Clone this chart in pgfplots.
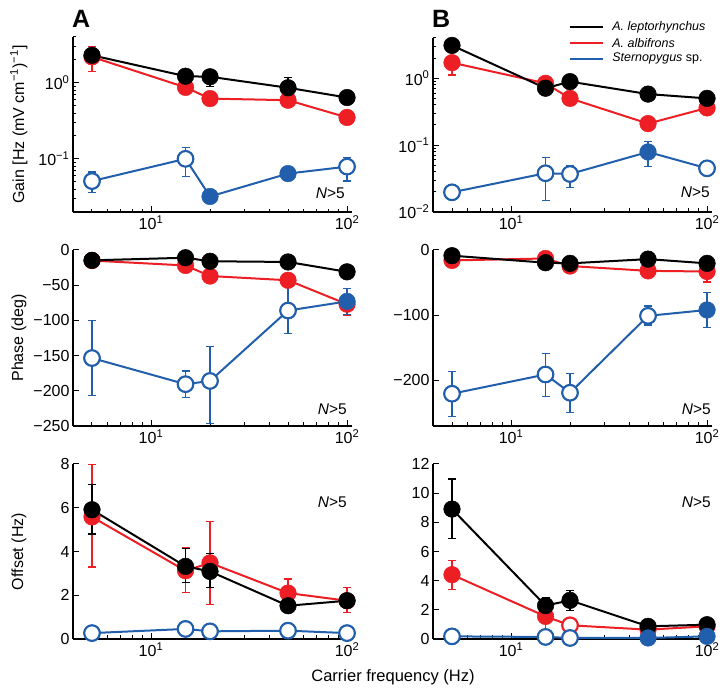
\documentclass[border=0pt]{standalone}
\usepackage{fontspec}
\setmainfont{Liberation Sans}
\usepackage{pgfplots}
\pgfplotsset{compat=1.18}
\definecolor{fred}{RGB}{237,30,36}
\definecolor{fblue}{RGB}{33,94,172}

% shared look of the six panels
\pgfplotsset{
  every axis/.append style={
    scale only axis, width=279pt,
    xmin=4, xmax=106,
    axis x line*=bottom, axis y line*=left,
    axis line style={line width=1.3pt, black},
    tick align=inside,
    major tick length=6pt, minor tick length=3.5pt,
    every tick/.style={black, line width=1pt},
    xtick={10,100}, xticklabels={10\textsuperscript{1},10\textsuperscript{2}},
    minor xtick={4,5,6,7,8,9,20,30,40,50,60,70,80,90},
    tick label style={font=\fontsize{16}{18}\selectfont},
    ylabel style={font=\fontsize{16}{18}\selectfont},
    clip=false,
  },
  every axis y label/.style={at={(axis description cs:-0.194,0.5)}, rotate=90, anchor=center},
  serErr/.style={
    error bars/y dir=both, error bars/y explicit,
    error bars/error bar style={line width=1.2pt},
    error bars/error mark options={rotate=90, mark size=4pt, line width=1.2pt},
  },
  serBlack/.style={black, line width=2pt, mark=*, mark size=8.3pt, mark options={solid, line width=0.5pt}, serErr},
  serRed/.style={fred, line width=2pt, mark=*, mark size=8.3pt, mark options={solid, line width=0.5pt}, serErr},
  serBlue/.style={fblue, line width=2pt, mark=*, mark size=8.3pt, mark options={solid, line width=0.5pt}, serErr},
  openBlue/.style={only marks, mark=*, mark size=7.8pt, mark options={fill=white, draw=fblue, line width=2.1pt}},
  openRed/.style={only marks, mark=*, mark size=7.8pt, mark options={fill=white, draw=fred, line width=2.1pt}},
}
\tikzset{
  nlab/.style={anchor=base east, inner sep=0pt, font=\fontsize{15.5}{17}\selectfont},
  legtxt/.style={anchor=west, inner sep=0pt, font=\fontsize{12.5}{14}\selectfont},
}

\begin{document}
\begin{tikzpicture}
\useasboundingbox (0,0) rectangle (726pt,693pt);

% ---------------- A: gain
\begin{axis}[xmode=log, at={(73pt,481pt)}, anchor=south west, height=175pt,
  ymode=log, ymin=0.02, ymax=4,
  ytick={0.1,1}, yticklabels={10\textsuperscript{−1},10\textsuperscript{0}},
  minor ytick={0.02,0.03,0.04,0.05,0.06,0.07,0.08,0.09,0.2,0.3,0.4,0.5,0.6,0.7,0.8,0.9,2,3,4},
  ylabel={Gain [Hz (mV cm\textsuperscript{−1})\textsuperscript{−1}]}]
\addplot[serRed] coordinates {
  (5,2.19) += (0,0.8) -= (0,0.77)
  (15,0.87) +- (0,0.1)
  (20,0.62) +- (0,0.08)
  (50,0.59) +- (0,0.08)
  (100,0.35) +- (0,0.03)};
\addplot[serBlack] coordinates {
  (5,2.3) +- (0,0.25)
  (15,1.22) +- (0,0.26)
  (20,1.2) +- (0,0.3)
  (50,0.86) += (0,0.3) -= (0,0.33)
  (100,0.64) +- (0,0.1)};
\addplot[serBlue] coordinates {
  (5,0.051) += (0,0.016) -= (0,0.015)
  (15,0.1) += (0,0.04) -= (0,0.041)
  (20,0.032) +- (0,0.002)
  (50,0.064) +- (0,0.006)
  (100,0.079) += (0,0.026) -= (0,0.028)};
\addplot[openBlue] coordinates {(5,0.051) (15,0.1) (100,0.079)};
\node[nlab] at (axis description cs:0.975,0.075) {\textit{N}>5};
\end{axis}

% ---------------- B: gain
\begin{axis}[xmode=log, at={(433pt,481pt)}, anchor=south west, height=174pt,
  ymode=log, ymin=0.01, ymax=4,
  ytick={0.01,0.1,1}, yticklabels={10\textsuperscript{−2},10\textsuperscript{−1},10\textsuperscript{0}},
  minor ytick={0.02,0.03,0.04,0.05,0.06,0.07,0.08,0.09,0.2,0.3,0.4,0.5,0.6,0.7,0.8,0.9,2,3,4}]
\addplot[serRed] coordinates {
  (5,1.71) += (0,0.35) -= (0,0.59)
  (15,0.84) +- (0,0.08)
  (20,0.5) +- (0,0.05)
  (50,0.21) += (0,0.03) -= (0,0.04)
  (100,0.36) +- (0,0.03)};
\addplot[serBlack] coordinates {
  (5,3.1) +- (0,0.4)
  (15,0.71) +- (0,0.1)
  (20,0.89) +- (0,0.15)
  (50,0.58) +- (0,0.1)
  (100,0.5) +- (0,0.08)};
\addplot[serBlue] coordinates {
  (5,0.0197) +- (0,0.001)
  (15,0.038) += (0,0.027) -= (0,0.0232)
  (20,0.037) += (0,0.013) -= (0,0.014)
  (50,0.079) += (0,0.033) -= (0,0.031)
  (100,0.045) +- (0,0.002)};
\addplot[openBlue] coordinates {(5,0.0197) (15,0.038) (20,0.037) (100,0.045)};
\node[nlab] at (axis description cs:0.993,0.086) {\textit{N}>5};
% legend
\draw[black, line width=2pt] (axis description cs:0.491,1.064) -- (axis description cs:0.609,1.064);
\draw[fred, line width=2pt] (axis description cs:0.491,0.972) -- (axis description cs:0.609,0.972);
\draw[fblue, line width=2pt] (axis description cs:0.491,0.880) -- (axis description cs:0.609,0.880);
\node[legtxt] at (axis description cs:0.642,1.064) {\textit{A. leptorhynchus}};
\node[legtxt] at (axis description cs:0.642,0.972) {\textit{A. albifrons}};
\node[legtxt] at (axis description cs:0.642,0.880) {\textit{Sternopygus} sp.};
\end{axis}

% ---------------- A: phase
\begin{axis}[xmode=log, at={(73pt,267pt)}, anchor=south west, height=176pt,
  ymin=-250, ymax=0,
  ytick={-250,-200,-150,-100,-50,0},
  yticklabels={−250,−200,−150,−100,−50,0},
  ylabel={Phase (deg)}]
\addplot[serRed] coordinates {
  (5,-15) +- (0,2)
  (15,-22) +- (0,3)
  (20,-37) +- (0,3)
  (50,-43) +- (0,3)
  (100,-77) += (0,11) -= (0,16)};
\addplot[serBlack] coordinates {
  (5,-14.7) +- (0,3)
  (15,-11) +- (0,4)
  (20,-16) +- (0,3)
  (50,-17) +- (0,3)
  (100,-31) +- (0,3)};
\addplot[serBlue] coordinates {
  (5,-153.5) +- (0,53.5)
  (15,-190.6) += (0,18.6) -= (0,19.4)
  (20,-186) += (0,49) -= (0,61)
  (50,-86) += (0,37) -= (0,33)
  (100,-73) += (0,18) -= (0,19)};
\addplot[openBlue] coordinates {(5,-153.5) (15,-190.6) (20,-186) (50,-86)};
\node[nlab] at (axis description cs:0.982,0.068) {\textit{N}>5};
\end{axis}

% ---------------- B: phase
\begin{axis}[xmode=log, at={(433pt,267pt)}, anchor=south west, height=176pt,
  ymin=-270, ymax=0,
  ytick={-200,-100,0},
  yticklabels={−200,−100,0}]
\addplot[serRed] coordinates {
  (5,-16) +- (0,2)
  (15,-13) +- (0,2)
  (20,-24.6) +- (0,2)
  (50,-32) +- (0,3)
  (100,-33) += (0,3) -= (0,16)};
\addplot[serBlack] coordinates {
  (5,-8.7) +- (0,3)
  (15,-19.5) +- (0,3)
  (20,-20.5) +- (0,3)
  (50,-14) +- (0,3)
  (100,-20.5) +- (0,3)};
\addplot[serBlue] coordinates {
  (5,-220.5) +- (0,34.5)
  (15,-191) += (0,32) -= (0,34)
  (20,-219) +- (0,30)
  (50,-101) += (0,15) -= (0,14)
  (100,-92) +- (0,27)};
\addplot[openBlue] coordinates {(5,-220.5) (15,-191) (20,-219) (50,-101)};
\node[nlab] at (axis description cs:0.996,0.068) {\textit{N}>5};
\end{axis}

% ---------------- A: offset
\begin{axis}[xmode=log, at={(73pt,54pt)}, anchor=south west, height=175pt,
  ymin=0, ymax=8,
  ytick={0,2,4,6,8}, yticklabels={0,2,4,6,8},
  ylabel={Offset (Hz)}]
\addplot[serRed] coordinates {
  (5,5.58) += (0,2.39) -= (0,2.29)
  (15,3.12) += (0,1.04) -= (0,0.99)
  (20,3.48) += (0,1.9) -= (0,1.91)
  (50,2.1) += (0,0.64) -= (0,0.6)
  (100,1.75) += (0,0.61) -= (0,0.53)};
\addplot[serBlack] coordinates {
  (5,5.91) += (0,1.15) -= (0,1.11)
  (15,3.32) += (0,0.8) -= (0,0.72)
  (20,3.09) += (0,0.81) -= (0,0.73)
  (50,1.52) +- (0,0.05)
  (100,1.75) +- (0,0.1)};
\addplot[serBlue] coordinates {
  (5,0.27) +- (0,0.02)
  (15,0.46) +- (0,0.02)
  (20,0.35) +- (0,0.02)
  (50,0.38) +- (0,0.02)
  (100,0.27) +- (0,0.02)};
\addplot[openBlue] coordinates {(5,0.27) (15,0.46) (20,0.35) (50,0.38) (100,0.27)};
\node[nlab] at (axis description cs:0.982,0.75) {\textit{N}>5};
\end{axis}

% ---------------- B: offset
\begin{axis}[xmode=log, at={(433pt,54pt)}, anchor=south west, height=175pt,
  ymin=0, ymax=12,
  ytick={0,2,4,6,8,10,12}, yticklabels={0,2,4,6,8,10,12}]
\addplot[serRed] coordinates {
  (5,4.41) += (0,0.98) -= (0,1.03)
  (15,1.55) += (0,0.92) -= (0,0.98)
  (20,0.94) +- (0,0.05)
  (50,0.64) +- (0,0.05)
  (100,0.87) +- (0,0.05)};
\addplot[openRed] coordinates {(20,0.94)};
\addplot[serBlack] coordinates {
  (5,8.91) += (0,2.06) -= (0,2.03)
  (15,2.29) += (0,0.52) -= (0,0.5)
  (20,2.65) += (0,0.69) -= (0,0.68)
  (50,0.87) +- (0,0.1)
  (100,0.98) +- (0,0.1)};
\addplot[serBlue] coordinates {
  (5,0.18) +- (0,0.02)
  (15,0.14) +- (0,0.02)
  (20,0.07) +- (0,0.02)
  (50,0.07) +- (0,0.02)
  (100,0.18) +- (0,0.02)};
\addplot[openBlue] coordinates {(5,0.18) (15,0.14) (20,0.07)};
\node[nlab] at (axis description cs:0.996,0.75) {\textit{N}>5};
\end{axis}

\node[anchor=base west, inner sep=0pt, font=\bfseries\fontsize{25}{28}\selectfont] at (72pt,665pt) {A};
\node[anchor=base west, inner sep=0pt, font=\bfseries\fontsize{25}{28}\selectfont] at (432pt,665pt) {B};
\node[anchor=base, inner sep=0pt, font=\fontsize{16.5}{18}\selectfont] at (393pt,11pt) {Carrier frequency (Hz)};
\end{tikzpicture}
\end{document}
